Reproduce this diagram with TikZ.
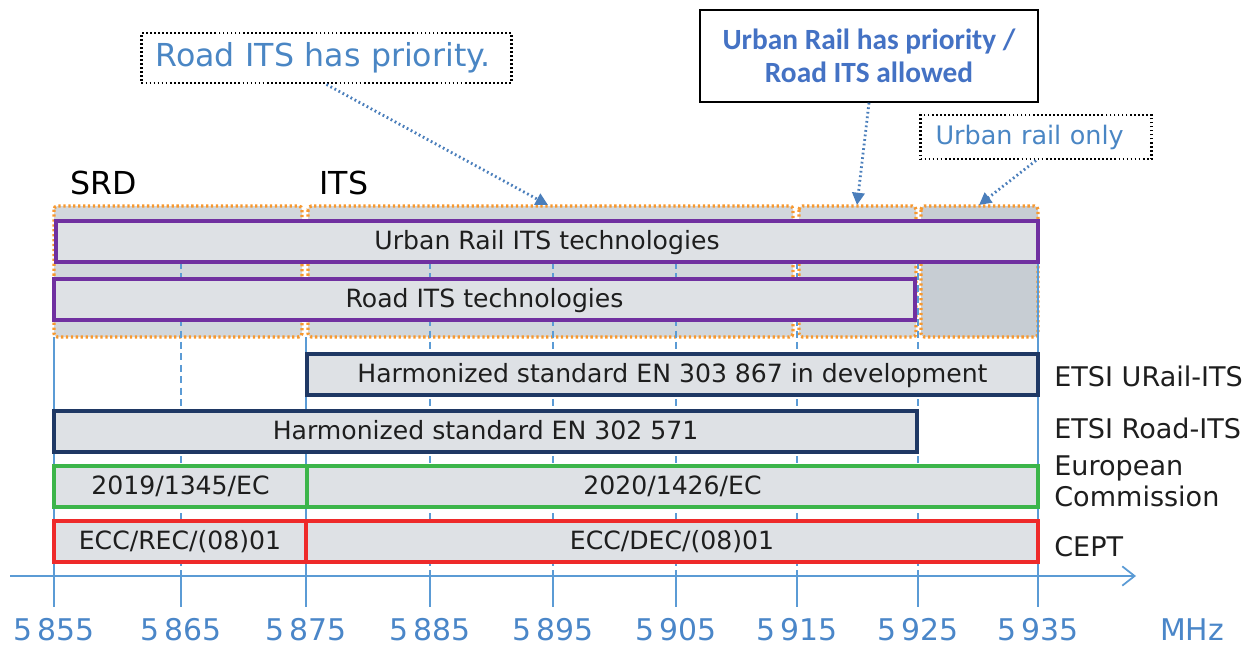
\documentclass[tikz,border=0pt]{standalone}
\usepackage{fontspec}
\setmainfont{DejaVu Sans}
\newfontfamily\notefont{Carlito}
\usetikzlibrary{arrows.meta}

\definecolor{bandgrey}{HTML}{D2D7DC}
\definecolor{bandgreydark}{HTML}{C7CDD3}
\definecolor{barfill}{HTML}{DEE1E5}
\definecolor{purplebar}{HTML}{7030A0}
\definecolor{navybar}{HTML}{1F3864}
\definecolor{greenbar}{HTML}{3CB54A}
\definecolor{redbar}{HTML}{EE2A2A}
\definecolor{orangedot}{HTML}{F7982E}
\definecolor{gridblue}{HTML}{5B9BD5}
\definecolor{ticktext}{HTML}{4A86C8}
\definecolor{notetext}{HTML}{4A86C4}
\definecolor{notebold}{HTML}{4472C4}
\definecolor{arrowblue}{HTML}{4A7EBB}
\definecolor{bartext}{HTML}{1E1E1E}

\tikzset{
  band/.style={fill=bandgrey, draw=orangedot, line width=1.9pt,
    dash pattern=on 1.3pt off 1.5pt, rounded corners=2pt},
  bar/.style={fill=barfill, line width=2pt, text=bartext, inner sep=0pt,
    text height=0.9em, text depth=0pt, font=\fontsize{14.3}{17}\selectfont},
  gridsolid/.style={draw=gridblue, line width=0.8pt},
  griddash/.style={draw=gridblue, line width=0.8pt, dash pattern=on 4pt off 2.5pt},
  ticklabel/.style={text=ticktext, font=\fontsize{17}{20}\selectfont},
  sidelabel/.style={anchor=west, inner sep=0pt, text=bartext, align=left,
    font=\fontsize{15.4}{17.5}\selectfont},
  banner/.style={anchor=west, inner sep=0pt, text=black,
    font=\fontsize{18}{21}\selectfont},
  dotnote/.style={draw=black, line width=1.7pt, dash pattern=on 1pt off 1.3pt,
    text=notetext, align=left},
  notearrow/.style={draw=arrowblue, line width=1.6pt, dash pattern=on 1pt off 1.6pt,
    -{Triangle[length=7pt,width=7pt]}, shorten >=0pt},
}

% a horizontal bar from (x1,y1) to (x2,y2), in pixel-like units
\newcommand\spanbar[7]{%
  \node[bar,#6,minimum width={(#4-#2)*0.02cm},minimum height={(#5-#3)*0.02cm}]
    (#1) at ({(#2+#4)/2},{(#3+#5)/2}) {#7};}

\begin{document}
\begin{tikzpicture}[x=0.02cm,y=-0.02cm]
\useasboundingbox (0,0) rectangle (1255,646);

% frequency bands
\draw[band] (54,206) rectangle (302,337);
\draw[band] (308,206) rectangle (793,337);
\draw[band] (799,206) rectangle (916,337);
\draw[band, fill=bandgreydark] (921,206) rectangle (1038,337);

% channel grid lines
\foreach \x in {181,430,553,676,797,918} \draw[griddash] (\x,262) -- (\x,576);
\foreach \x in {54,306} \draw[gridsolid] (\x,337) -- (\x,607);
\draw[gridsolid] (1038,262) -- (1038,607);
\foreach \x in {181,430,553,676,797,918} \draw[gridsolid] (\x,576) -- (\x,607);

% allocation bars
\spanbar{urban}{56}{221}{1038}{262}{draw=purplebar}{Urban Rail ITS technologies}
\spanbar{road}{54}{279}{915}{320}{draw=purplebar}{Road ITS technologies}
\spanbar{en303}{307}{354}{1038}{395}{draw=navybar}{Harmonized standard EN 303 867 in development}
\spanbar{en302}{54}{411}{917}{452}{draw=navybar}{Harmonized standard EN 302 571}
\spanbar{ecA}{54}{466}{307}{507}{draw=greenbar}{2019/1345/EC}
\spanbar{ecB}{307}{466}{1038}{507}{draw=greenbar}{2020/1426/EC}
\spanbar{cepA}{54}{521}{306}{562}{draw=redbar}{ECC/REC/(08)01}
\spanbar{cepB}{306}{521}{1038}{562}{draw=redbar}{ECC/DEC/(08)01}

% band titles
\node[banner] (srd) at (70,183) {SRD};
\node[banner] (its) at (319,183) {ITS};

% bodies on the right
\node[sidelabel] (urailits) at (1054,376) {ETSI URail-ITS};
\node[sidelabel] (roadits) at (1054,428) {ETSI Road-ITS};
\node[sidelabel] (ec) at (1054,481) {European\\Commission};
\node[sidelabel] (cept) at (1054,547) {CEPT};

% frequency axis
\coordinate (axstart) at (10,576);
\coordinate (axend) at (1136,576);
\draw[draw=gridblue, line width=1pt, -{Straight Barb[length=7pt,width=11pt]}] (axstart) -- (axend);
\foreach \x/\f in {54/855,181/865,306/875,430/885,553/895,676/905,797/915,918/925,1038/935}
  \node[ticklabel] (f\f) at (\x,630) {5\,\f};
\node[ticklabel] (mhz) at (1192,630) {MHz};

% notes
\node[dotnote, minimum height={50*0.02cm}, text width={342*0.02cm},
  inner xsep={14*0.02cm}, font=\fontsize{18}{21}\selectfont, anchor=west]
  (roadnote) at (140,58) {Road ITS has priority.};
\node[draw=black, line width=0.9pt, fill=white, align=center, text=notebold,
  minimum width={338*0.02cm}, minimum height={92*0.02cm},
  font=\notefont\bfseries\fontsize{16.7}{18.8}\selectfont]
  (railnote) at (869,56) {Urban Rail has priority /\\Road ITS allowed};
\node[dotnote, minimum height={44*0.02cm}, text width={201*0.02cm},
  inner xsep={15*0.02cm}, font=\fontsize{14.5}{17}\selectfont, anchor=west]
  (onlynote) at (919,137) {Urban rail only};

\coordinate (p1) at (548,205);
\coordinate (p2) at (857,205);
\coordinate (p3) at (979,205);
\draw[notearrow] (roadnote.south) -- (p1);
\draw[notearrow] (railnote.south) -- (p2);
\draw[notearrow] (onlynote.south) -- (p3);
\end{tikzpicture}
\end{document}
